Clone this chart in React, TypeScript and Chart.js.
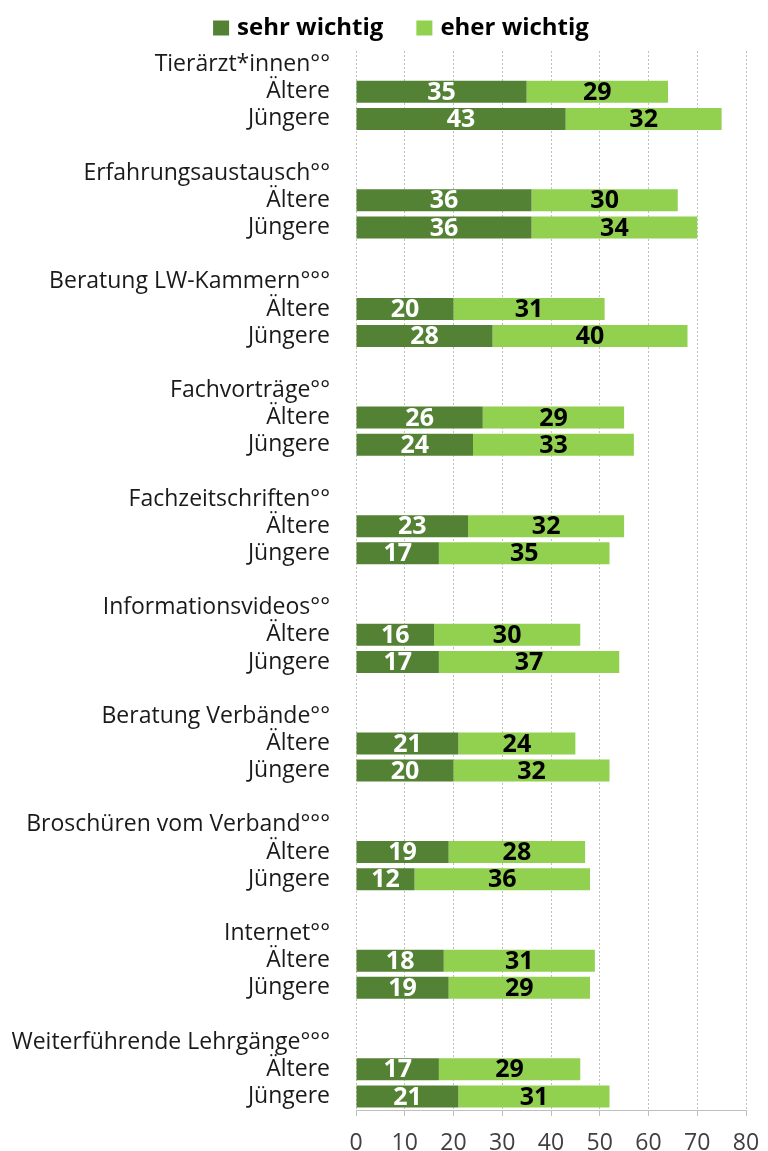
import { useEffect, useRef } from "react";
import { Chart, registerables } from "chart.js";

Chart.register(...registerables);

const groups = [
  "Tierärzt*innen°°",
  "Erfahrungsaustausch°°",
  "Beratung LW-Kammern°°°",
  "Fachvorträge°°",
  "Fachzeitschriften°°",
  "Informationsvideos°°",
  "Beratung Verbände°°",
  "Broschüren vom Verband°°°",
  "Internet°°",
  "Weiterführende Lehrgänge°°°",
];
const subgroups = ["Ältere", "Jüngere"];
const seriesNames = ["sehr wichtig", "eher wichtig"];
const sehrAeltere = [35, 36, 20, 26, 23, 16, 21, 19, 18, 17];
const sehrJuengere = [43, 36, 28, 24, 17, 17, 20, 12, 19, 21];
const eherAeltere = [29, 30, 31, 29, 32, 30, 24, 28, 31, 29];
const eherJuengere = [32, 34, 40, 33, 35, 37, 32, 36, 29, 31];
const xTickValues = [0, 10, 20, 30, 40, 50, 60, 70, 80];

const DARK = "#548235";
const LIGHT = "#92D050";
const FONT = '"Open Sans", "DejaVu Sans", sans-serif';

function buildRows() {
  const labels: string[] = [];
  const sehr: (number | null)[] = [];
  const eher: (number | null)[] = [];
  groups.forEach((g, i) => {
    labels.push(g);
    sehr.push(null);
    eher.push(null);
    labels.push(subgroups[0]);
    sehr.push(sehrAeltere[i]);
    eher.push(eherAeltere[i]);
    labels.push(subgroups[1]);
    sehr.push(sehrJuengere[i]);
    eher.push(eherJuengere[i]);
    if (i < groups.length - 1) {
      labels.push("");
      sehr.push(null);
      eher.push(null);
    }
  });
  return { labels, sehr, eher };
}

const valueLabels = {
  id: "valueLabels",
  afterDatasetsDraw(chart: any) {
    const ctx = chart.ctx;
    ctx.save();
    ctx.font = `bold 25px ${FONT}`;
    ctx.textAlign = "center";
    ctx.textBaseline = "middle";
    chart.data.datasets.forEach((ds: any, di: number) => {
      const meta = chart.getDatasetMeta(di);
      meta.data.forEach((el: any, i: number) => {
        const v = ds.data[i];
        if (v == null) return;
        const p = el.getProps(["x", "y", "base"], true);
        ctx.fillStyle = di === 0 ? "#ffffff" : "#000000";
        ctx.fillText(String(v), (p.x + p.base) / 2, p.y + 1);
      });
    });
    ctx.restore();
  },
};

const customLegend = {
  id: "customLegend",
  afterDraw(chart: any) {
    const ctx = chart.ctx;
    ctx.save();
    ctx.font = `bold 24px ${FONT}`;
    ctx.textBaseline = "middle";
    ctx.textAlign = "left";
    const boxW = 16;
    const boxH = 15;
    const gap = 8;
    const spacing = 33;
    const items = chart.data.datasets.map((ds: any) => ({
      text: ds.label as string,
      color: ds.backgroundColor as string,
      w: ctx.measureText(ds.label).width,
    }));
    const total = items.reduce((s: number, it: any) => s + boxW + gap + it.w, 0) + spacing * (items.length - 1);
    let x = chart.width / 2 + 17 - total / 2;
    const cy = 28;
    items.forEach((it: any) => {
      ctx.fillStyle = it.color;
      ctx.fillRect(x, cy - boxH / 2, boxW, boxH);
      x += boxW + gap;
      ctx.fillStyle = "#000000";
      ctx.fillText(it.text, x, cy);
      x += it.w + spacing;
    });
    ctx.restore();
  },
};

export default function App() {
  const ref = useRef<HTMLCanvasElement | null>(null);
  useEffect(() => {
    if (!ref.current) return;
    const { labels, sehr, eher } = buildRows();
    const chart = new Chart(ref.current, {
      type: "bar",
      data: {
        labels,
        datasets: [
          { label: seriesNames[0], data: sehr, backgroundColor: DARK, borderWidth: 0 },
          { label: seriesNames[1], data: eher, backgroundColor: LIGHT, borderWidth: 0 },
        ],
      },
      options: {
        indexAxis: "y",
        animation: false,
        responsive: true,
        maintainAspectRatio: false,
        datasets: { bar: { categoryPercentage: 1, barPercentage: 0.81 } },
        layout: { padding: { top: 51, right: 22, left: 0, bottom: 0 } },
        plugins: {
          legend: { display: false },
          tooltip: { enabled: false },
        },
        scales: {
          x: {
            stacked: true,
            min: 0,
            max: 80,
            afterBuildTicks: (scale: any) => {
              scale.ticks = xTickValues.map((v) => ({ value: v }));
            },
            afterFit: (scale: any) => {
              scale.height = 41;
              scale.paddingRight = 0;
              scale.paddingLeft = 0;
            },
            grid: { color: "#bfbfbf", lineWidth: 1, tickLength: 6, drawTicks: true, tickColor: "#bfbfbf" },
            border: { display: true, color: "#bfbfbf", width: 1, dash: [2, 2] },
            ticks: { color: "#404040", padding: 14, font: { family: FONT, size: 23 } },
          },
          y: {
            stacked: true,
            afterFit: (scale: any) => {
              scale.width = 356;
            },
            grid: { display: false, drawTicks: false },
            border: { display: false },
            ticks: { color: "#1a1a1a", padding: 26, autoSkip: false, font: { family: FONT, size: 23 } },
          },
        },
      },
      plugins: [valueLabels, customLegend],
    });
    return () => chart.destroy();
  }, []);
  return (
    <div style={{ position: "absolute", left: 0, top: 0, width: 768, height: 1151, background: "#fff" }}>
      <canvas ref={ref} />
    </div>
  );
}
